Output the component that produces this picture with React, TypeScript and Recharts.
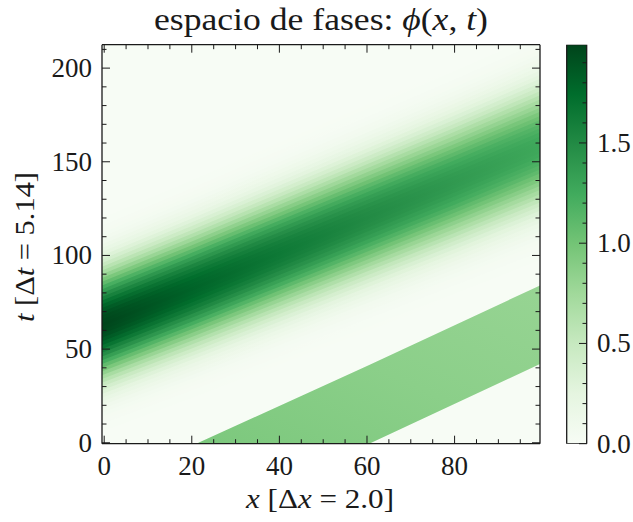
import React from 'react';
import { ComposedChart, Area, Bar, XAxis, YAxis, CartesianGrid } from 'recharts';

// ---------------- data ----------------
const VMAX = 1.99;
const GREENS = ['#f7fcf5', '#e5f5e0', '#c7e9c0', '#a1d99b', '#74c476', '#41ab5d', '#238b45', '#006d2c', '#00441b'];

// upper (diffused) pulse, read at sample columns
const pulseX = [-0.5, 20, 40, 60, 80, 99.5];
const pulseCenterT = [63, 82, 101, 120, 139, 158];
const pulsePeak = [1.99, 1.8, 1.64, 1.5, 1.38, 1.27];
const pulseSpread = [1.0, 1.02, 1.04, 1.06, 1.08, 1.1];
// relative profile across the pulse (offset in t from its centre)
const profileOffset = [0, 2, 4, 6, 8, 10, 12, 14, 16, 18, 20, 22, 24, 26, 28, 30, 32, 34, 36, 38, 40, 42, 44, 46, 48, 50, 52, 54, 56];
const profileRel = [1.0, 0.995, 0.985, 0.965, 0.935, 0.9, 0.855, 0.8, 0.745, 0.68, 0.615, 0.55, 0.485, 0.42, 0.355, 0.3, 0.245, 0.2, 0.16, 0.125, 0.095, 0.07, 0.05, 0.036, 0.025, 0.017, 0.011, 0.007, 0.004];

// lower flat band (sharp edges)
const slabX = [21.5, 60.5, 99.5];
const slabLowT = [-0.5, -0.5, 42];
const slabHighT = [0, 41.5, 84];
const slabValue = [0.95, 0.87, 0.8];

// ticks
const xTicks = [0, 5, 10, 15, 20, 25, 30, 35, 40, 45, 50, 55, 60, 65, 70, 75, 80, 85, 90, 95];
const xMajor = [0, 20, 40, 60, 80];
const yTicks = [0, 10, 20, 30, 40, 50, 60, 70, 80, 90, 100, 110, 120, 130, 140, 150, 160, 170, 180, 190, 200, 210];
const yMajor = [0, 50, 100, 150, 200];
const cbTicks = [0, 0.1, 0.2, 0.3, 0.4, 0.5, 0.6, 0.7, 0.8, 0.9, 1.0, 1.1, 1.2, 1.3, 1.4, 1.5, 1.6, 1.7, 1.8, 1.9];
const cbMajor = [0, 0.5, 1.0, 1.5];

const titleText = 'espacio de fases: ';
const xLabelText = ['x', ' [Δ', 'x', ' = 2.0]'];
const yLabelText = ['t', ' [Δ', 't', ' = 5.14]'];

// ---------------- helpers ----------------
const FONT = '"Liberation Serif", "DejaVu Serif", serif';
const INK = '#1a1a1a';
const MAJ = 8;
const MIN = 4.5;
const TICK_FS = 27;

function hex(h: string) {
  return [parseInt(h.slice(1, 3), 16), parseInt(h.slice(3, 5), 16), parseInt(h.slice(5, 7), 16)];
}
function greens(v: number) {
  const f = Math.max(0, Math.min(1, v / VMAX)) * 8;
  const i = Math.min(7, Math.floor(f));
  const t = f - i;
  const a = hex(GREENS[i]);
  const b = hex(GREENS[i + 1]);
  const c = a.map((av, j) => Math.round(av + (b[j] - av) * t));
  return `rgb(${c[0]},${c[1]},${c[2]})`;
}
const isMajor = (list: number[], v: number) => list.some((m) => Math.abs(m - v) < 1e-6);

const rowXs = Array.from(new Set([...pulseX, ...slabX])).sort((a, b) => a - b);
const rows = rowXs.map((x) => {
  const row: any = { x };
  const pi = pulseX.indexOf(x);
  profileOffset.forEach((d, k) => {
    row[`lv${k}`] = pi >= 0
      ? [pulseCenterT[pi] - (d + 1) * pulseSpread[pi], pulseCenterT[pi] + (d + 1) * pulseSpread[pi]]
      : null;
  });
  const si = slabX.indexOf(x);
  row.slab = si >= 0 ? [slabLowT[si], slabHighT[si]] : null;
  return row;
});
const levelOrder = profileOffset.map((_, k) => k).reverse();

const cbData = [{ name: 'cb', v: [0, VMAX] }];

// ---------------- tick renderers ----------------
const BottomTick = (p: any) => {
  const v = p.payload.value;
  const maj = isMajor(xMajor, v);
  return (
    <g>
      <line x1={p.x} x2={p.x} y1={p.y} y2={p.y - (maj ? MAJ : MIN)} stroke={INK} strokeWidth={1} />
      {maj && (
        <text x={p.x} y={p.y + 31} textAnchor="middle" fontSize={TICK_FS} fontFamily={FONT} fill={INK}>
          {String(v)}
        </text>
      )}
    </g>
  );
};
const TopTick = (p: any) => {
  const maj = isMajor(xMajor, p.payload.value);
  return <line x1={p.x} x2={p.x} y1={p.y} y2={p.y + (maj ? MAJ : MIN)} stroke={INK} strokeWidth={1} />;
};
const LeftTick = (p: any) => {
  const v = p.payload.value;
  const maj = isMajor(yMajor, v);
  return (
    <g>
      <line x1={p.x} x2={p.x + (maj ? MAJ : MIN)} y1={p.y} y2={p.y} stroke={INK} strokeWidth={1} />
      {maj && (
        <text x={p.x - 10} y={p.y + 9} textAnchor="end" fontSize={TICK_FS} fontFamily={FONT} fill={INK}>
          {String(v)}
        </text>
      )}
    </g>
  );
};
const RightTick = (p: any) => {
  const maj = isMajor(yMajor, p.payload.value);
  return <line x1={p.x} x2={p.x - (maj ? MAJ : MIN)} y1={p.y} y2={p.y} stroke={INK} strokeWidth={1} />;
};
const CbTick = (p: any) => {
  const v = p.payload.value;
  const maj = isMajor(cbMajor, v);
  return (
    <g>
      <line x1={p.x} x2={p.x - (maj ? MAJ : MIN)} y1={p.y} y2={p.y} stroke={INK} strokeWidth={1} />
      {maj && (
        <text x={p.x + 10} y={p.y + 9} textAnchor="start" fontSize={TICK_FS} fontFamily={FONT} fill={INK}>
          {v.toFixed(1)}
        </text>
      )}
    </g>
  );
};

const axisLine = { stroke: INK, strokeWidth: 1.3 };

export default function App() {
  return (
    <div style={{ position: 'absolute', left: 0, top: 0, width: 633, height: 522, background: '#ffffff' }}>
      <div style={{ position: 'absolute', left: 0, top: 0 }}>
        <ComposedChart
          width={633}
          height={522}
          data={rows}
          margin={{ top: 34.7, right: 83, bottom: 48.3, left: 42 }}
        >
          <defs>
            {levelOrder.map((k) => (
              <linearGradient key={k} id={`lvg${k}`} x1="0" y1="0" x2="1" y2="0">
                {pulseX.map((x, i) => (
                  <stop key={i} offset={(x + 0.5) / 100} stopColor={greens(pulsePeak[i] * profileRel[k])} />
                ))}
              </linearGradient>
            ))}
            <linearGradient id="slabGrad" x1="0" y1="1" x2="1" y2="0">
              {slabValue.map((v, i) => (
                <stop key={i} offset={i / (slabValue.length - 1)} stopColor={greens(v)} />
              ))}
            </linearGradient>
          </defs>
          <CartesianGrid xAxisId="b" yAxisId="l" horizontal={false} vertical={false} fill={greens(0)} stroke="none" />
          <XAxis
            xAxisId="b"
            dataKey="x"
            type="number"
            domain={[-0.5, 99.5]}
            allowDataOverflow
            ticks={xTicks}
            interval={0}
            tickLine={false}
            tickSize={0}
            tickMargin={0}
            height={30}
            axisLine={axisLine}
            tick={<BottomTick />}
          />
          <XAxis
            xAxisId="t"
            orientation="top"
            dataKey="x"
            type="number"
            domain={[-0.5, 99.5]}
            allowDataOverflow
            ticks={xTicks}
            interval={0}
            tickLine={false}
            tickSize={0}
            tickMargin={0}
            height={10}
            axisLine={axisLine}
            tick={<TopTick />}
          />
          <YAxis
            yAxisId="l"
            type="number"
            domain={[-0.5, 212.5]}
            allowDataOverflow
            ticks={yTicks}
            interval={0}
            tickLine={false}
            tickSize={0}
            tickMargin={0}
            width={60}
            axisLine={axisLine}
            tick={<LeftTick />}
          />
          <YAxis
            yAxisId="r"
            orientation="right"
            type="number"
            domain={[-0.5, 212.5]}
            allowDataOverflow
            ticks={yTicks}
            interval={0}
            tickLine={false}
            tickSize={0}
            tickMargin={0}
            width={10}
            axisLine={axisLine}
            tick={<RightTick />}
          />
          {levelOrder.map((k) => (
            <Area
              key={k}
              xAxisId="b"
              yAxisId="l"
              dataKey={`lv${k}`}
              type="linear"
              connectNulls
              stroke="none"
              fill={`url(#lvg${k})`}
              fillOpacity={1}
              dot={false}
              activeDot={false}
              isAnimationActive={false}
            />
          ))}
          <Area
            xAxisId="b"
            yAxisId="l"
            dataKey="slab"
            type="linear"
            connectNulls
            stroke="none"
            fill="url(#slabGrad)"
            fillOpacity={1}
            dot={false}
            activeDot={false}
            isAnimationActive={false}
          />
          <text
            x={321}
            y={30}
            textAnchor="middle"
            fontSize={32}
            fontFamily={FONT}
            fill={INK}
            textLength={334}
            lengthAdjust="spacingAndGlyphs"
          >
            {titleText}
            <tspan fontStyle="italic">ϕ</tspan>(<tspan fontStyle="italic">x</tspan>, <tspan fontStyle="italic">t</tspan>)
          </text>
          <text
            x={320}
            y={508}
            textAnchor="middle"
            fontSize={28}
            fontFamily={FONT}
            fill={INK}
            textLength={148}
            lengthAdjust="spacingAndGlyphs"
          >
            <tspan fontStyle="italic">{xLabelText[0]}</tspan>
            {xLabelText[1]}
            <tspan fontStyle="italic">{xLabelText[2]}</tspan>
            {xLabelText[3]}
          </text>
          <text
            x={0}
            y={0}
            transform="translate(34,247) rotate(-90)"
            textAnchor="middle"
            fontSize={28}
            fontFamily={FONT}
            fill={INK}
            textLength={150}
            lengthAdjust="spacingAndGlyphs"
          >
            <tspan fontStyle="italic">{yLabelText[0]}</tspan>
            {yLabelText[1]}
            <tspan fontStyle="italic">{yLabelText[2]}</tspan>
            {yLabelText[3]}
          </text>
        </ComposedChart>
      </div>
      <div style={{ position: 'absolute', left: 0, top: 0 }}>
        <ComposedChart
          width={633}
          height={522}
          data={cbData}
          barCategoryGap={0}
          margin={{ top: 44.7, right: 6, bottom: 78.3, left: 566.7 }}
        >
          <defs>
            <linearGradient id="cbGrad" x1="0" y1="1" x2="0" y2="0">
              {GREENS.map((c, i) => (
                <stop key={i} offset={i / 8} stopColor={c} />
              ))}
            </linearGradient>
          </defs>
          <XAxis dataKey="name" type="category" hide />
          <YAxis
            orientation="right"
            type="number"
            domain={[0, VMAX]}
            allowDataOverflow
            ticks={cbTicks}
            interval={0}
            tickLine={false}
            tickSize={0}
            tickMargin={0}
            width={40}
            axisLine={false}
            tick={<CbTick />}
          />
          <Bar dataKey="v" fill="url(#cbGrad)" stroke={INK} strokeWidth={1.3} isAnimationActive={false} />
        </ComposedChart>
      </div>
    </div>
  );
}
